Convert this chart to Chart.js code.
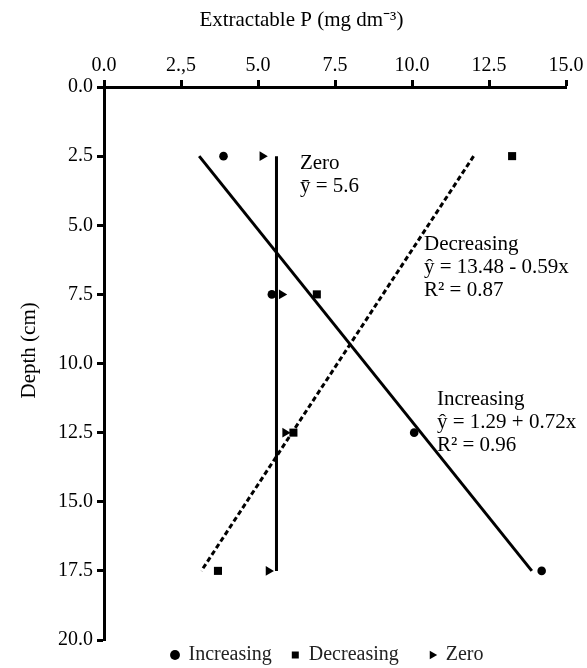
<!DOCTYPE html>
<html>
<head>
<meta charset="utf-8">
<title>Extractable P by depth</title>
<script src="https://cdn.jsdelivr.net/npm/chart.js@4.4.1/dist/chart.umd.min.js"></script>
<style>
  html, body { margin: 0; padding: 0; background: #fff; }
  #wrap { width: 587px; height: 668px; }
</style>
</head>
<body>
<div id="wrap"><canvas id="chart"></canvas></div>
<script>
// Depth layers (cm) and extractable P (mg dm-3) per management
const depths = [2.5, 7.5, 12.5, 17.5];
const increasing = [3.88, 5.45, 10.07, 14.21];
const decreasing = [13.25, 6.91, 6.15, 3.70];
const zero = [5.14, 5.77, 5.88, 5.34];

// Fitted lines, evaluated at the first and last layer
const fitDepths = [2.5, 17.5];
const increasingFit = [3.09, 13.89];
const decreasingFit = [12.0, 3.16];
const zeroFit = [5.6, 5.6];

const xTickLabels = ['0.0', '2.,5', '5.0', '7.5', '10.0', '12.5', '15.0'];
const seriesNames = ['Increasing', 'Decreasing', 'Zero'];

const serif = "'Liberation Serif', 'Times New Roman', serif";
const font20 = { family: serif, size: 20 };
const font21 = { family: serif, size: 21, weight: 'normal' };
const nbsp = n => '\u00A0'.repeat(n);

const toPoints = (values, ys) => values.map((v, i) => ({ x: v, y: ys[i] }));

// Equation labels next to each fitted line (data units, baseline of first line)
const notes = [
  { x: 6.36, y: 2.97, lines: ['Zero', 'ȳ = 5.6'] },
  { x: 10.39, y: 5.90, lines: ['Decreasing', 'ŷ = 13.48 - 0.59x', 'R² = 0.87'] },
  { x: 10.81, y: 11.50, lines: ['Increasing', 'ŷ = 1.29 + 0.72x', 'R² = 0.96'] }
];

const notesPlugin = {
  id: 'notes',
  afterDatasetsDraw(chart) {
    const { ctx, scales: { x, y } } = chart;
    ctx.save();
    ctx.fillStyle = '#000';
    ctx.font = `21px ${serif}`;
    ctx.textAlign = 'left';
    ctx.textBaseline = 'alphabetic';
    notes.forEach(n => {
      const px = x.getPixelForValue(n.x);
      const py = y.getPixelForValue(n.y);
      n.lines.forEach((t, i) => ctx.fillText(t, px, py + i * 23));
    });
    ctx.restore();
  }
};

// extra space after legend texts, so items sit apart like in the figure
const legendTail = [3, 5, 3];

const axisGrid = {
  drawOnChartArea: false,
  drawTicks: true,
  tickLength: 7,
  tickWidth: 3,
  tickColor: '#000',
  color: '#000'
};
const axisBorder = { display: true, color: '#000', width: 3 };

const pointSet = (label, values, style, radius, rotation) => ({
  label,
  data: toPoints(values, depths),
  pointStyle: style,
  pointRadius: radius,
  pointRotation: rotation || 0,
  pointBackgroundColor: '#000',
  pointBorderColor: '#000',
  pointBorderWidth: 0,
  backgroundColor: '#000',
  borderColor: '#000',
  showLine: false
});

const fitSet = (label, values, dash) => ({
  label,
  data: toPoints(values, fitDepths),
  showLine: true,
  borderColor: '#000',
  borderWidth: 3,
  borderDash: dash,
  pointRadius: 0,
  fill: false
});

new Chart(document.getElementById('chart'), {
  type: 'scatter',
  data: {
    datasets: [
      pointSet(seriesNames[0], increasing, 'circle', 4.3),
      pointSet(seriesNames[1], decreasing, 'rect', 5.7),
      pointSet(seriesNames[2], zero, 'triangle', 5.5, 90),
      fitSet('Increasing fit', increasingFit, []),
      fitSet('Decreasing fit', decreasingFit, [5, 3]),
      fitSet('Zero fit', zeroFit, [])
    ]
  },
  options: {
    responsive: true,
    maintainAspectRatio: false,
    animation: false,
    layout: { padding: { left: 0, right: 21, top: 0, bottom: 0 } },
    plugins: {
      title: {
        display: true,
        // leading spaces nudge the centred title right, as in the figure
        text: nbsp(7) + 'Extractable P (mg dm⁻³)',
        color: '#000',
        font: font21,
        padding: { top: 7.4, bottom: 0 }
      },
      legend: {
        position: 'bottom',
        fullSize: false,
        maxHeight: 28,
        labels: {
          usePointStyle: true,
          boxWidth: 7,
          boxHeight: 7,
          padding: 5,
          color: '#222',
          font: font20,
          filter: item => item.datasetIndex < 3,
          generateLabels: chart =>
            Chart.defaults.plugins.legend.labels.generateLabels(chart).map(item => {
              item.text = item.text + nbsp(legendTail[item.datasetIndex] || 0);
              return item;
            })
        }
      },
      tooltip: { enabled: false }
    },
    scales: {
      x: {
        type: 'linear',
        position: 'top',
        min: 0,
        max: 15,
        ticks: {
          stepSize: 2.5,
          color: '#000',
          font: font20,
          padding: 2,
          maxRotation: 0,
          callback: (v, i) => xTickLabels[i]
        },
        grid: axisGrid,
        border: axisBorder,
        afterFit: s => { s.height = 54.4; }
      },
      y: {
        type: 'linear',
        reverse: true,
        min: 0,
        max: 20,
        ticks: {
          stepSize: 2.5,
          color: '#000',
          font: font20,
          padding: 4,
          callback: v => v.toFixed(1)
        },
        title: {
          display: true,
          text: nbsp(5) + 'Depth (cm)',
          color: '#000',
          font: font21,
          padding: { top: 17, bottom: 0 }
        },
        grid: axisGrid,
        border: axisBorder,
        afterFit: s => { s.width = 104; }
      }
    }
  },
  plugins: [notesPlugin]
});
</script>
</body>
</html>
